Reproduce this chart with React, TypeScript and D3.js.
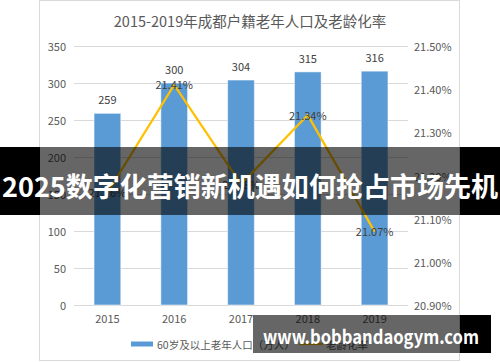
import React from "react";
import * as d3 from "d3";

const years = ["2015", "2016", "2017", "2018", "2019"];
const population = [259, 300, 304, 315, 316];
const agingRate = [21.16, 21.41, 21.18, 21.34, 21.07];
const leftTicks = [0, 50, 100, 150, 200, 250, 300, 350];
const rightTicks = [20.9, 21.0, 21.1, 21.2, 21.3, 21.4, 21.5];
const title = "2015-2019年成都户籍老年人口及老龄化率";
const seriesNames = ["60岁及以上老年人口（万人）", "老龄化率"];
const bannerText = "2025数字化营销新机遇如何抢占市场先机";
const watermark = "www.bobbandaogym.com";

const FONT = "'Noto Sans CJK SC', 'Noto Sans', sans-serif";

export default function App() {
  const W = 500, H = 362;
  const x = d3.scaleBand<string>().domain(years).range([74, 408]).paddingInner(0.6).paddingOuter(0.3);
  const yL = d3.scaleLinear().domain([0, 350]).range([305, 46]);
  const yR = d3.scaleLinear().domain([20.9, 21.5]).range([305, 46]);
  const fmtR = (v: number) => d3.format(".2f")(v) + "%";
  const cx = (d: string) => (x(d) as number) + x.bandwidth() / 2;
  const line = d3.line<number>().x((_, i) => cx(years[i])).y((v) => yR(v));

  return (
    <div style={{ position: "absolute", left: 0, top: 0 }}>
      <svg width={W} height={H} style={{ display: "block", fontFamily: FONT }}>
        <rect x={0} y={0} width={W} height={H} fill="#fff" />
        <rect x={39.5} y={0.5} width={420} height={360} fill="#fff" stroke="#D9D9D9" />
        <text x={250} y={20} textAnchor="middle" dominantBaseline="central" fontSize={14.5} fill="#595959">{title}</text>
        {leftTicks.map((t) => (
          <g key={"l" + t}>
            <line x1={74} x2={408} y1={yL(t) + 0.5} y2={yL(t) + 0.5} stroke="#D9D9D9" strokeWidth={1} />
            <text x={66} y={yL(t)} textAnchor="end" dominantBaseline="central" fontSize={11} fill="#595959">{t}</text>
          </g>
        ))}
        {rightTicks.map((t) => (
          <text key={"r" + t} x={414} y={yR(t)} textAnchor="start" dominantBaseline="central" fontSize={11} fill="#595959">{fmtR(t)}</text>
        ))}
        {years.map((yr, i) => (
          <g key={yr}>
            <rect x={x(yr)} y={yL(population[i])} width={x.bandwidth()} height={yL(0) - yL(population[i])} fill="#5B9BD5" stroke="#fff" strokeOpacity={0.5} strokeWidth={1} />
            <text x={cx(yr)} y={yL(population[i]) - 14} textAnchor="middle" dominantBaseline="central" fontSize={11} fill="#404040">{population[i]}</text>
            <text x={cx(yr)} y={318} textAnchor="middle" dominantBaseline="central" fontSize={11} fill="#595959">{yr}</text>
          </g>
        ))}
        <path d={line(agingRate) || ""} fill="none" stroke="#FFC000" strokeWidth={2.25} strokeLinejoin="round" />
        {years.map((yr, i) => (
          <text key={"lr" + yr} x={cx(yr)} y={yR(agingRate[i]) - 0.5} textAnchor="middle" dominantBaseline="central" fontSize={11} fill="#404040">{fmtR(agingRate[i])}</text>
        ))}
        {/* legend */}
        <rect x={131} y={341.5} width={22} height={5} fill="#5B9BD5" />
        <text x={157} y={344} dominantBaseline="central" fontSize={10.5} fill="#595959">{seriesNames[0]}</text>
        <line x1={299} x2={323} y1={344} y2={344} stroke="#FFC000" strokeWidth={2.25} />
        <text x={326} y={344} dominantBaseline="central" fontSize={10.5} fill="#595959">{seriesNames[1]}</text>
        {/* banner overlay */}
        <rect x={0} y={147} width={40} height={68} fill="#000" />
        <rect x={460} y={147} width={40} height={68} fill="#000" />
        <rect x={40} y={147} width={420} height={68} fill="rgba(0,0,0,0.6)" />
        <text x={2} y={185} dominantBaseline="central" fontSize={27} fontWeight="bold" fill="#fff" textLength={496} lengthAdjust="spacingAndGlyphs">{bannerText}</text>
        {/* watermark */}
        <rect x={253} y={315} width={207} height={38} fill="rgba(0,0,0,0.6)" />
        <rect x={460} y={315} width={31} height={38} fill="#000" />
        <text x={371} y={335} textAnchor="middle" dominantBaseline="central" fontSize={19} fontWeight="bold" fill="#fff" textLength={216} lengthAdjust="spacingAndGlyphs">{watermark}</text>
      </svg>
    </div>
  );
}
